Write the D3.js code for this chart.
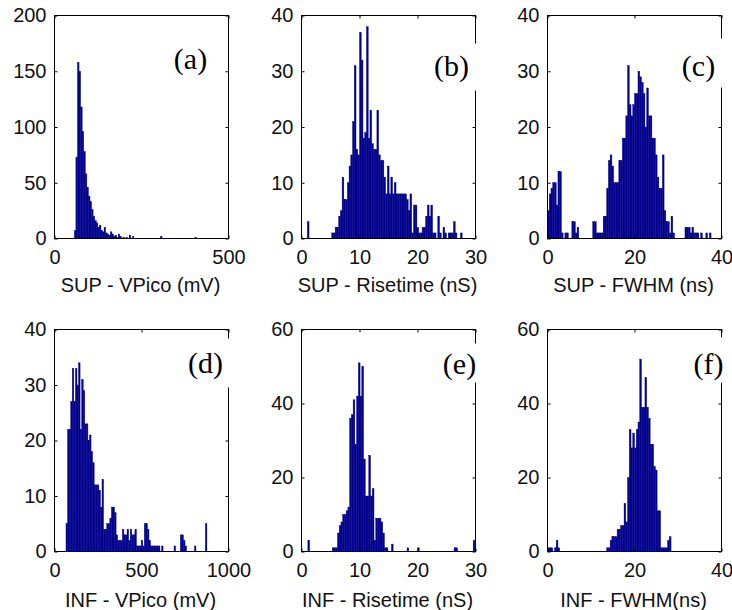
<!DOCTYPE html>
<html>
<head>
<meta charset="utf-8">
<script src="https://cdn.jsdelivr.net/npm/d3@7"></script>
<style>
  body { margin: 0; background: #fff; }
  svg { display: block; }
</style>
</head>
<body>
<div id="chart"></div>
<script>
// ---- data (histogram counts) ----
const panelTags = ["(a)", "(b)", "(c)", "(d)", "(e)", "(f)"];
const xTitles = [
  "SUP - VPico (mV)", "SUP - Risetime (nS)", "SUP - FWHM (ns)",
  "INF - VPico (mV)", "INF - Risetime (nS)", "INF - FWHM(ns)"
];
const xDomains = [[0, 500], [0, 30], [0, 40], [0, 1000], [0, 30], [0, 40]];
const yDomains = [[0, 200], [0, 40], [0, 40], [0, 40], [0, 60], [0, 60]];
const xTickVals = [[0, 500], [0, 10, 20, 30], [0, 20, 40], [0, 500, 1000], [0, 10, 20, 30], [0, 20, 40]];
const yTickVals = [
  [0, 50, 100, 150, 200], [0, 10, 20, 30, 40], [0, 10, 20, 30, 40],
  [0, 10, 20, 30, 40], [0, 20, 40, 60], [0, 20, 40, 60]
];
// first bin edge and bin width of each histogram
const binStarts = [57, 1.0, 0, 66, 1.1, 0];
const binWidths = [4.5, 0.3, 0.4, 9, 0.3, 0.4];

const countsA = [7, 73, 158, 150, 118, 96, 78, 58, 46, 38,
  33, 26, 20, 16, 14, 10, 12, 7, 6, 10,
  5, 4, 3, 6, 4, 2, 3, 1, 4, 2,
  0, 1, 0, 1, 0, 3, 0, 2, 0, 0,
  0, 0, 0, 0, 0, 0, 0, 0, 0, 0,
  0, 0, 0, 0, 0, 2, 0, 0, 0, 0,
  0, 0, 0, 0, 0, 0, 0, 0, 0, 0,
  0, 0, 0, 0, 0, 0, 0, 1];
const countsB = [3, 0, 0, 0, 0, 0, 0, 0, 0, 0,
  0, 0, 0, 0, 1, 1, 2, 2, 4, 5,
  11, 7, 7, 10, 13, 15, 21, 31, 16, 15,
  37, 32, 18, 19, 38, 18, 23, 17, 16, 16,
  23, 15, 14, 14, 11, 8, 13, 8, 11, 8,
  10, 8, 8, 8, 8, 8, 8, 7, 5, 8,
  1, 6, 6, 2, 1, 1, 2, 2, 4, 6,
  4, 6, 1, 1, 0, 4, 1, 0, 2, 1,
  0, 1, 1, 1, 3, 1, 0, 0, 1];
const countsC = [5, 8, 9, 10, 10, 6, 12, 12, 1, 0,
  1, 1, 0, 0, 3, 3, 1, 2, 0, 0,
  0, 0, 0, 0, 0, 0, 3, 3, 1, 1,
  1, 1, 4, 4, 9, 14, 15, 13, 10, 10,
  10, 14, 14, 18, 18, 22, 31, 24, 22, 24,
  26, 26, 30, 29, 28, 26, 20, 27, 22, 22,
  18, 18, 15, 11, 9, 9, 15, 5, 3, 3,
  1, 4, 1, 0, 0, 0, 0, 0, 0, 2,
  2, 2, 1, 2, 1, 1, 1, 0, 1, 0,
  0, 1, 0, 1];
const countsD = [5, 22, 22, 27, 33, 27, 33, 30, 34, 22,
  31, 29, 23, 23, 20, 21, 18, 16, 12, 12,
  12, 11, 8, 13, 4, 4, 5, 5, 6, 8,
  8, 7, 3, 2, 2, 2, 4, 3, 3, 4,
  2, 4, 3, 3, 4, 1, 1, 1, 2, 1,
  5, 5, 4, 2, 1, 1, 1, 1, 1, 1,
  0, 1, 0, 0, 0, 0, 0, 0, 0, 1,
  0, 0, 0, 3, 3, 2, 1, 0, 0, 0,
  0, 0, 1, 0, 0, 0, 0, 0, 0, 5];
const countsE = [3, 0, 0, 0, 0, 0, 0, 0, 0, 0,
  0, 0, 0, 0, 1, 1, 1, 5, 7, 8,
  10, 10, 11, 12, 36, 37, 41, 29, 42, 51,
  42, 50, 25, 15, 15, 26, 15, 17, 3, 9,
  9, 9, 8, 5, 1, 1, 0, 0, 2, 0,
  0, 0, 0, 0, 0, 0, 0, 1, 0, 0,
  0, 0, 0, 1, 0, 0, 0, 0, 0, 0,
  0, 0, 0, 0, 0, 0, 0, 0, 0, 0,
  0, 0, 0, 0, 1, 1, 0, 0, 0, 0,
  0, 0, 0, 0, 0, 3];
const countsF = [1, 1, 1, 0, 1, 3, 1, 0, 0, 0,
  0, 0, 0, 0, 0, 0, 0, 0, 0, 0,
  0, 0, 0, 0, 0, 0, 0, 0, 0, 0,
  0, 0, 0, 0, 1, 1, 3, 4, 4, 4,
  6, 6, 7, 7, 13, 8, 20, 33, 28, 32,
  28, 33, 35, 52, 39, 39, 47, 39, 36, 29,
  29, 23, 22, 11, 11, 1, 1, 1, 1, 3,
  4];
const allCounts = [countsA, countsB, countsC, countsD, countsE, countsF];

// ---- layout ----
const W = 732, H = 610;
const colLeft = [54, 301, 547];
const plotW = 174;
const rowTop = [15, 329];
const plotH = [223, 222];
// tag box: text centre and white box, relative to the plot's top-right corner
const tagPos = [
  { cx: -38, cy: 45, box: [-60, 25, 46, 46] },
  { cx: -24, cy: 52, box: [-49, 28, 56, 47] },
  { cx: -23, cy: 52, box: [-46, 23, 54, 49] },
  { cx: -23, cy: 35, box: [-45, 9, 53, 49] },
  { cx: -16, cy: 36, box: [-38, 14, 47, 39] },
  { cx: -13, cy: 36, box: [-33, 8, 41, 45] }
];

const barColor = "rgb(0,0,140)";
const sans = "'Liberation Sans', Arial, Helvetica, sans-serif";
const serif = "'Liberation Serif', 'Times New Roman', serif";

const svg = d3.select("#chart").append("svg")
  .attr("width", W).attr("height", H)
  .style("background", "#fff");

allCounts.forEach((counts, i) => {
  const col = i % 3, row = Math.floor(i / 3);
  const w = plotW, h = plotH[row];
  const g = svg.append("g")
    .attr("transform", `translate(${colLeft[col] + 0.5},${rowTop[row] + 0.5})`);

  const x = d3.scaleLinear().domain(xDomains[i]).range([0, w]);
  const y = d3.scaleLinear().domain(yDomains[i]).range([h, 0]);

  const bins = counts.map((c, k) => ({
    x0: binStarts[i] + k * binWidths[i],
    x1: binStarts[i] + (k + 1) * binWidths[i],
    c: c
  }));

  // same-colour hairline stroke closes the anti-aliasing seams between bars
  g.selectAll("rect.bar")
    .data(bins.filter((d) => d.c > 0))
    .join("rect")
    .attr("class", "bar")
    .attr("x", (d) => x(d.x0))
    .attr("y", (d) => y(d.c))
    .attr("width", (d) => x(d.x1) - x(d.x0))
    .attr("height", (d) => h - y(d.c))
    .attr("fill", barColor)
    .attr("stroke", barColor)
    .attr("stroke-width", 0.4);

  // axes, ticks pointing inward on all four sides
  const fmt = d3.format("d");
  const axB = g.append("g").attr("transform", `translate(0,${h})`)
    .call(d3.axisBottom(x).tickValues(xTickVals[i]).tickFormat(fmt)
      .tickSizeInner(-3).tickSizeOuter(0).tickPadding(11));
  const axL = g.append("g")
    .call(d3.axisLeft(y).tickValues(yTickVals[i]).tickFormat(fmt)
      .tickSizeInner(-3).tickSizeOuter(0).tickPadding(8));
  const axT = g.append("g")
    .call(d3.axisTop(x).tickValues(xTickVals[i]).tickSizeInner(-3).tickSizeOuter(0).tickFormat(""));
  const axR = g.append("g").attr("transform", `translate(${w},0)`)
    .call(d3.axisRight(y).tickValues(yTickVals[i]).tickSizeInner(-3).tickSizeOuter(0).tickFormat(""));

  [axB, axL, axT, axR].forEach((a) => {
    a.select(".domain").remove();
    a.selectAll("line").attr("stroke", "#000");
    a.selectAll("text")
      .attr("fill", "#111")
      .style("font-family", sans)
      .style("font-size", "20px");
  });

  g.append("rect")
    .attr("width", w).attr("height", h)
    .attr("fill", "none").attr("stroke", "#000").attr("stroke-width", 1);

  g.append("text")
    .attr("x", w / 2 - 1)
    .attr("y", h + (row === 0 ? 53 : 55))
    .attr("text-anchor", "middle")
    .attr("fill", "#111")
    .style("font-family", sans)
    .style("font-size", "20px")
    .text(xTitles[i]);

  // panel tag in a white box, laid over the right border
  const t = tagPos[i];
  g.append("rect")
    .attr("x", w + t.box[0]).attr("y", t.box[1])
    .attr("width", t.box[2]).attr("height", t.box[3])
    .attr("fill", "#fff");
  g.append("text")
    .attr("x", w + t.cx)
    .attr("y", t.cy + 8)
    .attr("text-anchor", "middle")
    .attr("fill", "#000")
    .style("font-family", serif)
    .style("font-size", "30px")
    .text(panelTags[i]);
});
</script>
</body>
</html>
